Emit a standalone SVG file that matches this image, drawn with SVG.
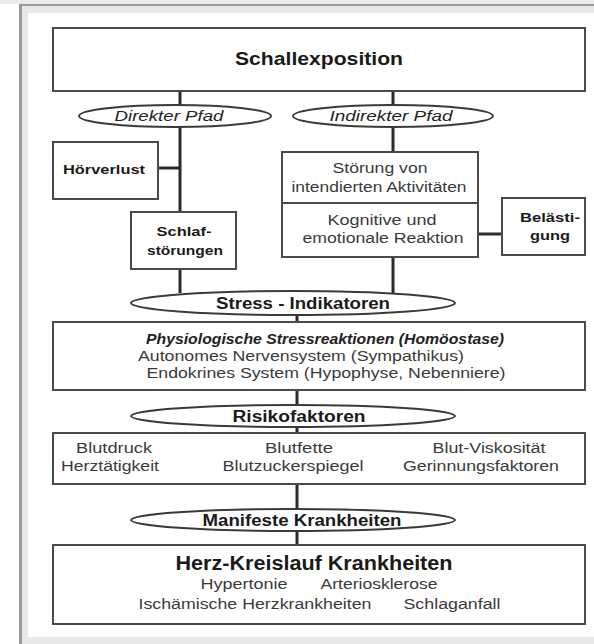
<svg xmlns="http://www.w3.org/2000/svg" width="594" height="644" viewBox="0 0 594 644">
<style>
.box{fill:#fff;stroke:#4a4a4a;stroke-width:2}
.ell{fill:#fff;stroke:#3a3a3a;stroke-width:2}
.ln{stroke:#2a2a2a;stroke-width:3;fill:none}
text{font-family:"Liberation Sans",Arial,sans-serif;text-anchor:middle;dominant-baseline:central;fill:#3a3a3a}
.b{font-weight:bold;fill:#1a1a1a}
.bi{font-weight:bold;font-style:italic;fill:#222}
.i{font-style:italic;fill:#222}
.t{font-size:14px}
</style>
<rect x="0" y="0" width="594" height="644" fill="#fff"/>
<rect x="0" y="0" width="594" height="4" fill="#ececec"/>
<rect x="19" y="4" width="575" height="2" fill="#9a9a9a"/>
<rect x="19" y="4" width="3" height="640" fill="#9a9a9a"/>
<rect x="22" y="6" width="572" height="7" fill="#e8e8e8"/>
<rect x="22" y="6" width="6" height="638" fill="#e8e8e8"/>
<rect x="22" y="637" width="572" height="7" fill="#e8e8e8"/>

<g id="connectors">
<line class="ln" x1="180" y1="92" x2="180" y2="106"/>
<line class="ln" x1="393" y1="92" x2="393" y2="106"/>
<line class="ln" x1="180" y1="126" x2="180" y2="212"/>
<line class="ln" x1="158" y1="168" x2="180" y2="168"/>
<line class="ln" x1="393" y1="126" x2="393" y2="152"/>
<line class="ln" x1="478" y1="234" x2="502" y2="234"/>
<line class="ln" x1="180" y1="269" x2="180" y2="293"/>
<line class="ln" x1="393" y1="257" x2="393" y2="293"/>
<line class="ln" x1="297" y1="314" x2="297" y2="322"/>
<line class="ln" x1="297" y1="390" x2="297" y2="406"/>
<line class="ln" x1="297" y1="426" x2="297" y2="433"/>
<line class="ln" x1="297" y1="484" x2="297" y2="510"/>
<line class="ln" x1="297" y1="530" x2="297" y2="545"/>
</g>

<g id="schallexposition"><rect class="box" x="53" y="28" width="532" height="63"/><text class="b" x="319" y="58" font-size="19" textLength="168" lengthAdjust="spacingAndGlyphs">Schallexposition</text></g>
<g id="direkter-pfad"><ellipse class="ell" cx="175" cy="116" rx="96" ry="11"/><text class="i" x="169" y="116" font-size="14" textLength="109" lengthAdjust="spacingAndGlyphs">Direkter Pfad</text></g>
<g id="indirekter-pfad"><ellipse class="ell" cx="393" cy="116" rx="100" ry="11"/><text class="i" x="391" y="116" font-size="14" textLength="123" lengthAdjust="spacingAndGlyphs">Indirekter Pfad</text></g>
<g id="hoerverlust"><rect class="box" x="53" y="142" width="105" height="57"/><text class="b" x="104" y="169" font-size="13" textLength="82" lengthAdjust="spacingAndGlyphs">Hörverlust</text></g>
<g id="schlafstoerungen"><rect class="box" x="131" y="212" width="105" height="57"/><text class="b" x="184" y="231" font-size="13" textLength="55" lengthAdjust="spacingAndGlyphs">Schlaf-</text><text class="b" x="185" y="250" font-size="13" textLength="76" lengthAdjust="spacingAndGlyphs">störungen</text></g>
<g id="stoerung"><rect class="box" x="282" y="152" width="196" height="51"/><text class="t" x="380" y="168" textLength="95" lengthAdjust="spacingAndGlyphs">Störung von</text><text class="t" x="379" y="187" textLength="175" lengthAdjust="spacingAndGlyphs">intendierten Aktivitäten</text></g>
<g id="kognitive"><rect class="box" x="282" y="203" width="196" height="54"/><text class="t" x="382" y="220" textLength="109" lengthAdjust="spacingAndGlyphs">Kognitive und</text><text class="t" x="383" y="238" textLength="161" lengthAdjust="spacingAndGlyphs">emotionale Reaktion</text></g>
<g id="belaestigung"><rect class="box" x="502" y="198" width="83" height="57"/><text class="b" x="550" y="217" font-size="13" textLength="60" lengthAdjust="spacingAndGlyphs">Belästi-</text><text class="b" x="550" y="235" font-size="13" textLength="40" lengthAdjust="spacingAndGlyphs">gung</text></g>
<g id="stress-indikatoren"><ellipse class="ell" cx="293" cy="303" rx="162" ry="12"/><text class="b" x="303" y="303" font-size="16" textLength="174" lengthAdjust="spacingAndGlyphs">Stress - Indikatoren</text></g>
<g id="physiologische"><rect class="box" x="53" y="322" width="532" height="68"/><text class="bi" x="325" y="339" font-size="14" textLength="358" lengthAdjust="spacingAndGlyphs">Physiologische Stressreaktionen (Homöostase)</text><text class="t" x="301" y="356" textLength="326" lengthAdjust="spacingAndGlyphs">Autonomes Nervensystem (Sympathikus)</text><text class="t" x="326" y="373" textLength="359" lengthAdjust="spacingAndGlyphs">Endokrines System (Hypophyse, Nebenniere)</text></g>
<g id="risikofaktoren"><ellipse class="ell" cx="293" cy="416" rx="162" ry="11"/><text class="b" x="299" y="416" font-size="16" textLength="133" lengthAdjust="spacingAndGlyphs">Risikofaktoren</text></g>
<g id="risiko-werte"><rect class="box" x="53" y="433" width="532" height="51"/><text class="t" x="114" y="448" textLength="76" lengthAdjust="spacingAndGlyphs">Blutdruck</text><text class="t" x="110" y="466" textLength="98" lengthAdjust="spacingAndGlyphs">Herztätigkeit</text><text class="t" x="299" y="448" textLength="68" lengthAdjust="spacingAndGlyphs">Blutfette</text><text class="t" x="293" y="466" textLength="141" lengthAdjust="spacingAndGlyphs">Blutzuckerspiegel</text><text class="t" x="489" y="448" textLength="113" lengthAdjust="spacingAndGlyphs">Blut-Viskosität</text><text class="t" x="481" y="466" textLength="156" lengthAdjust="spacingAndGlyphs">Gerinnungsfaktoren</text></g>
<g id="manifeste"><ellipse class="ell" cx="293" cy="520" rx="162" ry="11"/><text class="b" x="302" y="520" font-size="16" textLength="199" lengthAdjust="spacingAndGlyphs">Manifeste Krankheiten</text></g>
<g id="herz-kreislauf"><rect class="box" x="53" y="545" width="532" height="79"/><text class="b" x="314" y="563" font-size="20" textLength="277" lengthAdjust="spacingAndGlyphs">Herz-Kreislauf Krankheiten</text><text class="t" x="244" y="584" textLength="87" lengthAdjust="spacingAndGlyphs">Hypertonie</text><text class="t" x="379" y="584" textLength="117" lengthAdjust="spacingAndGlyphs">Arteriosklerose</text><text class="t" x="255" y="604" textLength="233" lengthAdjust="spacingAndGlyphs">Ischämische Herzkrankheiten</text><text class="t" x="452" y="604" textLength="97" lengthAdjust="spacingAndGlyphs">Schlaganfall</text></g>
</svg>
